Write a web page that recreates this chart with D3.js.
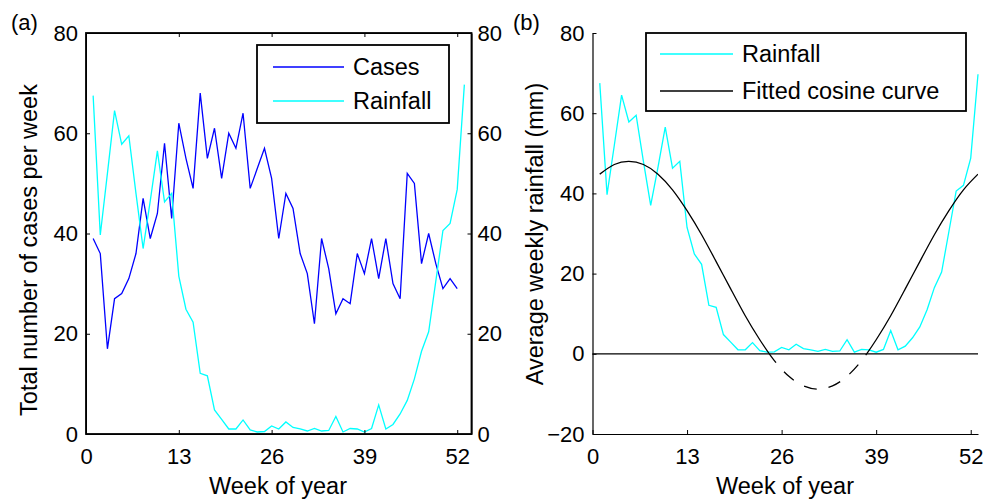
<!DOCTYPE html>
<html>
<head>
<meta charset="utf-8">
<script src="https://cdn.jsdelivr.net/npm/d3@7"></script>
<style>
  body { margin: 0; background: #fff; }
  svg text { font-family: "Liberation Sans", Arial, Helvetica, sans-serif; fill: #000; }
</style>
</head>
<body>
<svg id="chart" width="989" height="501"></svg>
<script>

// weekly cases, weeks 1..52
let cases = [39, 36, 17, 27, 28, 31, 36, 47, 39, 44, 58, 43, 62, 55, 49, 68, 55, 61, 51, 60,
  57, 64, 49, 53, 57, 51, 39, 48, 45, 36, 32, 22, 39, 33, 24, 27, 26, 36, 32, 39,
  31, 39, 30, 27, 52, 50, 34, 40, 34, 29, 31, 29];

// average weekly rainfall (mm), weeks 1..53
let rainfall = [67.5, 39.7, 52, 64.5, 57.8, 59.5, 48, 37, 46.5, 56.5, 46.3, 48, 31.5, 24.9, 22.3,
  12.1, 11.6, 4.8, 2.9, 1.0, 1.0, 2.8, 0.8, 0.4, 0.5, 1.6, 1.0, 2.4, 1.3, 1.0, 0.6, 1.1,
  0.6, 0.7, 3.5, 0.4, 1.1, 1.0, 0.4, 1.1, 5.8, 1.0, 1.9, 4.0, 6.7, 11, 16.5, 20.4, 30.5,
  40.6, 42, 48.8, 69.7];

// fitted cosine curve read at odd weeks
let fitWeeks = [1, 3, 5, 7, 9, 11, 13, 15, 17, 19, 21, 23, 25, 27, 29, 31, 33, 35, 37, 39, 41, 43, 45, 47, 49, 51, 53];
let fitValues = [44.8, 47.2, 48.0, 47.2, 44.8, 40.9, 35.7, 29.7, 23.0, 16.2, 9.5, 3.5, -1.7, -5.6, -8.0, -8.8,
  -8.0, -5.6, -1.7, 3.5, 9.5, 16.2, 23.0, 29.7, 35.7, 40.9, 44.8];

let weekTicks = [0, 13, 26, 39, 52];
let leftTicks = [0, 20, 40, 60, 80];
let rightTicks = [-20, 0, 20, 40, 60, 80];

let svg = d3.select("#chart");
let fs = 22;      // tick labels
let fsLab = 23.5; // axis titles and legend


// ---------- panel (a) ----------

let xa = d3.scaleLinear().domain([0, 54]).range([86, 471.5]);
let ya = d3.scaleLinear().domain([0, 80]).range([434, 33]);

let ga = svg.append("g");

let lineCases = d3.line()
    .x((d, i) => xa(i + 1))
    .y(d => ya(d));

ga.append("path")
  .attr("d", lineCases(cases))
  .attr("fill", "none")
  .attr("stroke", "#0000ff")
  .attr("stroke-width", 1.3);

ga.append("path")
  .attr("d", lineCases(rainfall))
  .attr("fill", "none")
  .attr("stroke", "#00ffff")
  .attr("stroke-width", 1.3);

ga.append("g")
  .attr("transform", "translate(0,434)")
  .call(d3.axisBottom(xa).tickValues(weekTicks).tickSize(-4).tickSizeOuter(0).tickPadding(14))
  .call(styleAxis);

ga.append("g")
  .attr("transform", "translate(0,33)")
  .call(d3.axisTop(xa).tickValues(weekTicks).tickSize(-4).tickSizeOuter(0).tickFormat(""))
  .call(styleAxis);

ga.append("g")
  .attr("transform", "translate(86,0)")
  .call(d3.axisLeft(ya).tickValues(leftTicks).tickSize(-4).tickSizeOuter(0).tickPadding(8))
  .call(styleAxis);

ga.append("g")
  .attr("transform", "translate(471.5,0)")
  .call(d3.axisRight(ya).tickValues(leftTicks).tickSize(-4).tickSizeOuter(0).tickPadding(6))
  .call(styleAxis);

ga.append("rect")
  .attr("x", 86).attr("y", 33)
  .attr("width", 471.5 - 86).attr("height", 434 - 33)
  .attr("fill", "none")
  .attr("stroke", "#000")
  .attr("stroke-width", 1.8);

ga.append("text")
  .attr("transform", "translate(37,250) rotate(-90)")
  .attr("text-anchor", "middle")
  .attr("font-size", fsLab)
  .text("Total number of cases per week");

ga.append("text")
  .attr("x", 278).attr("y", 494)
  .attr("text-anchor", "middle")
  .attr("font-size", fsLab)
  .text("Week of year");

ga.append("text")
  .attr("x", 11).attr("y", 30)
  .attr("font-size", fs)
  .text("(a)");

drawLegend(ga, 257, 45, 449, 123,
  [{name: "Cases", color: "#0000ff"}, {name: "Rainfall", color: "#00ffff"}],
  273, 344, 353, [67, 101]);


// ---------- panel (b) ----------

let xb = d3.scaleLinear().domain([0, 53]).range([592.5, 978]);
let yb = d3.scaleLinear().domain([-20, 80]).range([434, 33]);

let gb = svg.append("g");

let defs = svg.append("defs");
defs.append("clipPath").attr("id", "above")
  .append("rect")
  .attr("x", xb(0)).attr("y", yb(80))
  .attr("width", xb(53) - xb(0)).attr("height", yb(0) - yb(80));
defs.append("clipPath").attr("id", "below")
  .append("rect")
  .attr("x", xb(0)).attr("y", yb(0))
  .attr("width", xb(53) - xb(0)).attr("height", yb(-20) - yb(0));

gb.append("line")
  .attr("x1", xb(0)).attr("x2", xb(53))
  .attr("y1", yb(0)).attr("y2", yb(0))
  .attr("stroke", "#000")
  .attr("stroke-width", 1.2);

let lineRain = d3.line()
    .x((d, i) => xb(i + 1))
    .y(d => yb(d));

gb.append("path")
  .attr("d", lineRain(rainfall))
  .attr("fill", "none")
  .attr("stroke", "#00ffff")
  .attr("stroke-width", 1.3);

let lineFit = d3.line()
    .x((d, i) => xb(fitWeeks[i]))
    .y(d => yb(d))
    .curve(d3.curveNatural);

gb.append("path")
  .attr("d", lineFit(fitValues))
  .attr("clip-path", "url(#above)")
  .attr("fill", "none")
  .attr("stroke", "#000")
  .attr("stroke-width", 1.3);

gb.append("path")
  .attr("d", lineFit(fitValues))
  .attr("clip-path", "url(#below)")
  .attr("fill", "none")
  .attr("stroke", "#000")
  .attr("stroke-width", 1.3)
  .attr("stroke-dasharray", "13,12");

gb.append("g")
  .attr("transform", "translate(0,434)")
  .call(d3.axisBottom(xb).tickValues(weekTicks).tickSize(-4).tickSizeOuter(0).tickPadding(14))
  .call(styleAxis)
  .call(g => g.select(".domain").attr("stroke-width", 1.2));

gb.append("g")
  .attr("transform", "translate(592.5,0)")
  .call(d3.axisLeft(yb).tickValues(rightTicks).tickSize(-4).tickSizeOuter(0).tickPadding(8)
    .tickFormat(d => d < 0 ? "\u2212" + Math.abs(d) : d))
  .call(styleAxis)
  .call(g => g.select(".domain").attr("stroke-width", 1.2));

gb.append("text")
  .attr("transform", "translate(543,234) rotate(-90)")
  .attr("text-anchor", "middle")
  .attr("font-size", fsLab)
  .text("Average weekly rainfall (mm)");

gb.append("text")
  .attr("x", 785).attr("y", 494)
  .attr("text-anchor", "middle")
  .attr("font-size", fsLab)
  .text("Week of year");

gb.append("text")
  .attr("x", 513).attr("y", 30)
  .attr("font-size", fs)
  .text("(b)");

drawLegend(gb, 646, 33, 966, 111,
  [{name: "Rainfall", color: "#00ffff"}, {name: "Fitted cosine curve", color: "#000"}],
  660, 733, 742, [54, 91]);



// HELPER FUNCTIONS

function styleAxis (g) {
  g.selectAll("text").attr("font-size", fs).attr("font-family", null);
  g.selectAll(".tick line").attr("stroke", "#000");
  g.select(".domain").attr("stroke", "#000");
}

function drawLegend (g, x0, y0, x1, y1, items, lx0, lx1, tx, rows) {
  g.append("rect")
    .attr("x", x0).attr("y", y0)
    .attr("width", x1 - x0).attr("height", y1 - y0)
    .attr("fill", "#fff")
    .attr("stroke", "#000")
    .attr("stroke-width", 1.8);
  items.forEach((it, i) => {
    g.append("line")
      .attr("x1", lx0).attr("x2", lx1)
      .attr("y1", rows[i]).attr("y2", rows[i])
      .attr("stroke", it.color)
      .attr("stroke-width", 1.3);
    g.append("text")
      .attr("x", tx).attr("y", rows[i])
      .attr("dy", "0.35em")
      .attr("font-size", fsLab)
      .text(it.name);
  });
}

</script>
</body>
</html>
